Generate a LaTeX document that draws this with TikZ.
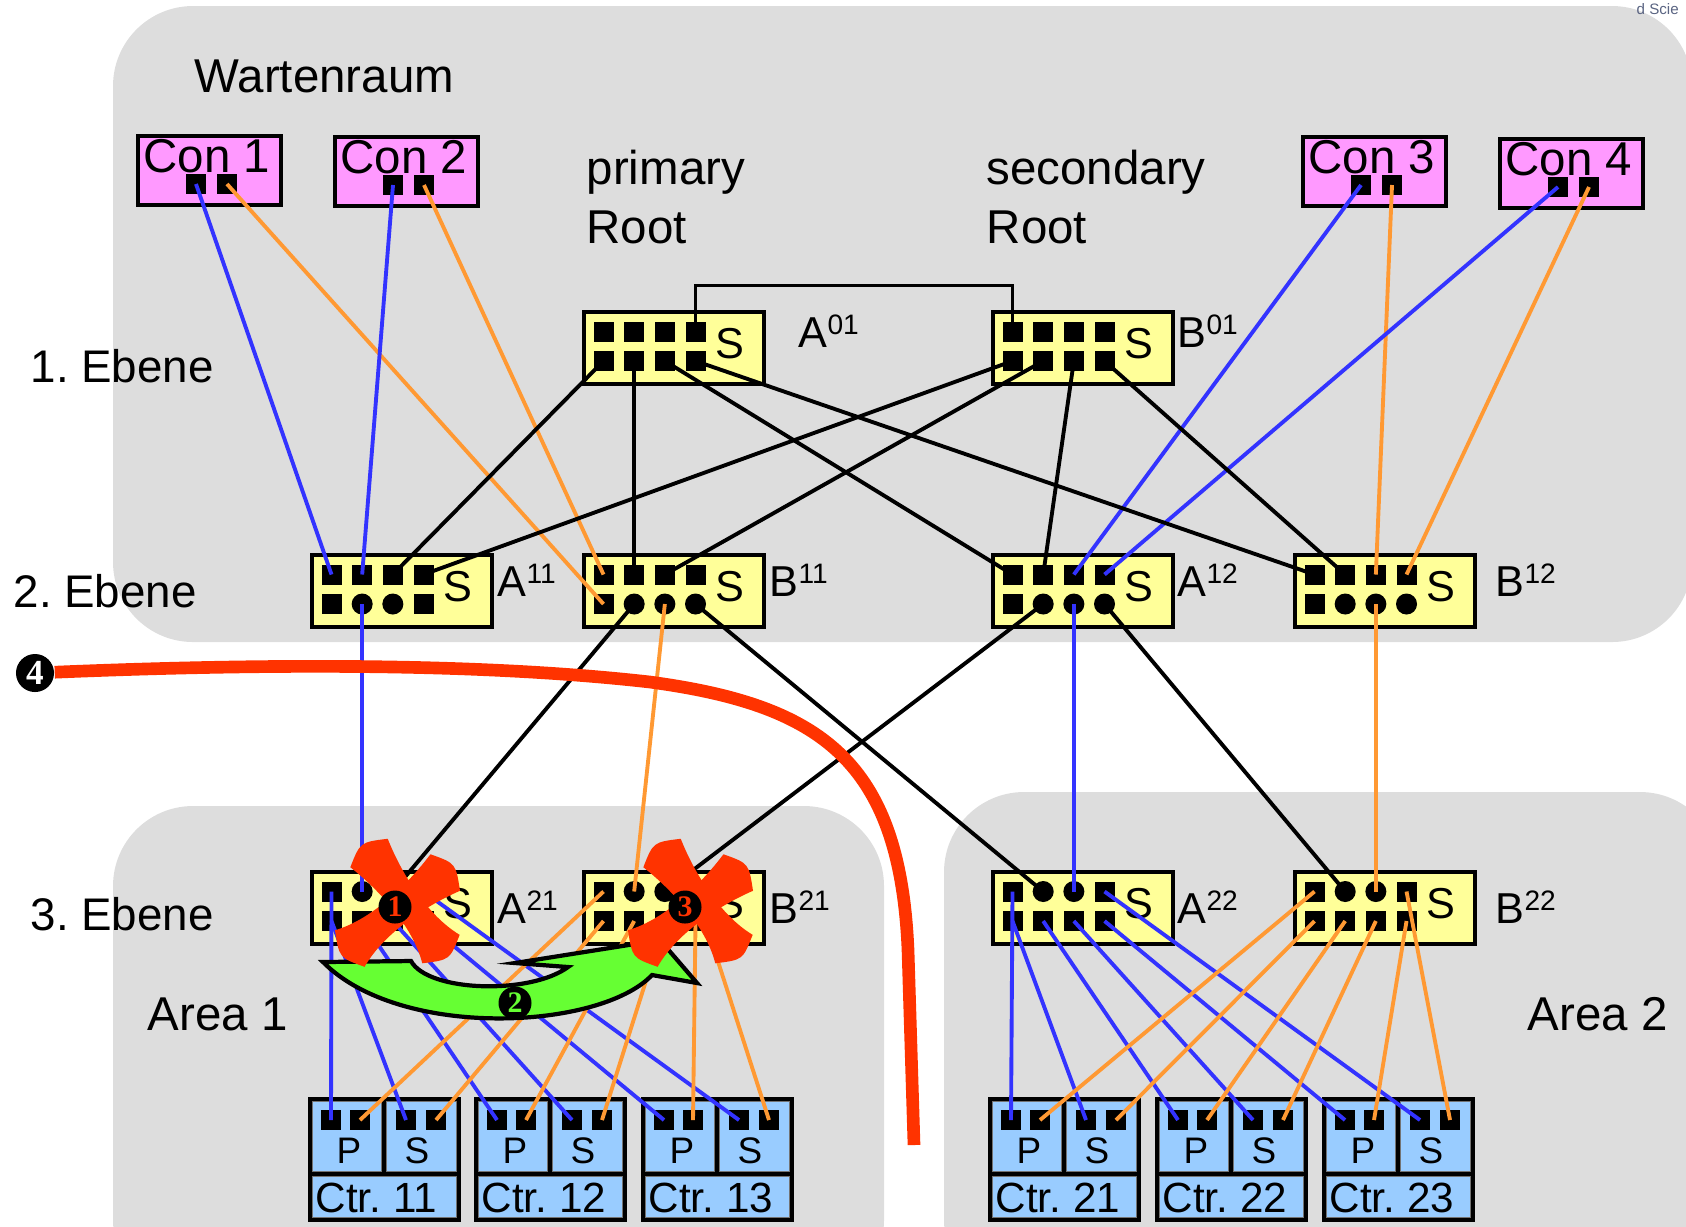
\documentclass[tikz,border=0pt]{standalone}
\usepackage{fontspec}
\setmainfont{Liberation Sans}
\newfontfamily\markfont{Liberation Serif}
\usepackage{xcolor}
\definecolor{zone}{RGB}{221,221,221}
\definecolor{conpink}{RGB}{255,153,255}
\definecolor{swyellow}{RGB}{255,255,153}
\definecolor{ctrblue}{RGB}{153,204,255}
\definecolor{netA}{RGB}{51,51,255}
\definecolor{netB}{RGB}{255,153,51}
\definecolor{failred}{RGB}{255,51,0}
\definecolor{arrowgreen}{RGB}{102,255,51}
\definecolor{markgray}{RGB}{90,100,130}
\frenchspacing

\begin{document}
\begin{tikzpicture}[x=0.01cm, y=-0.01cm, font=\fontsize{13.5}{16.8}\selectfont,
  zonebox/.style={fill=zone, rounded corners=0.8cm},
  con/.style={draw, line width=1.1pt, fill=conpink, minimum width=1.43cm,
              minimum height=0.69cm, anchor=north west, inner sep=0pt},
  sw/.style={draw, line width=1.1pt, fill=swyellow, minimum width=1.80cm,
             minimum height=0.72cm, anchor=north west, inner sep=0pt},
  sq/.style={fill=black, minimum size=0.2cm, inner sep=0pt},
  rnd/.style={circle, fill=black, minimum size=0.21cm, inner sep=0pt},
  ctrframe/.style={fill=black, minimum width=1.53cm, minimum height=1.25cm,
                   anchor=north west, inner sep=0pt},
  cell/.style={draw=black!55, line width=0.3pt, fill=ctrblue, anchor=north west, inner sep=0pt},
  txt/.style={inner sep=0pt, anchor=base west},
  swlabel/.style={txt, font=\fontsize{12.3}{14}\selectfont},
  wa/.style={netA, line width=1.1pt},
  wb/.style={netB, line width=1.1pt},
  wk/.style={black, line width=1.1pt},
  failmark/.style={circle, fill=black, inner sep=0pt, minimum size=0.33cm,
                   font=\markfont\bfseries\fontsize{8.5}{8.5}\selectfont},
  failline/.style={failred, line width=3.6pt}]
  \useasboundingbox (0,0) rectangle (1686,1226);
  % zones
  \fill[zonebox] (113,6) rectangle (1692,642);
  \fill[zonebox] (113,806) rectangle (884,1300);
  \fill[zonebox] (944,792) rectangle (1720,1300);
  \node[txt, font=\fontsize{4.3}{5}\selectfont, text=markgray] (wm) at (1636,14) {d Scie};

  \node[txt] (hall) at (194,92) {Wartenraum};
  \node[txt, align=left, anchor=north west] (proot) at (586,149) {primary\\Root};
  \node[txt, align=left, anchor=north west] (sroot) at (986,149) {secondary\\Root};
  \foreach \y/\x/\n in {382/30/1, 607/13/2, 930/30/3}
    \node[txt, font=\fontsize{13}{15}\selectfont] (lvl\n) at (\x,\y) {\n. Ebene};
  \node[txt] (area1) at (147,1030) {Area 1};
  \node[txt] (area2) at (1527,1030) {Area 2};

  % consoles
  \foreach \id/\x/\y/\name in {con1/134/132/Con 1, con2/331/133/Con 2,
                               con3/1299/133/Con 3, con4/1496/135/Con 4} {
    \node[con] (\id) at (\x+2,\y+2) {};
    \node[txt, anchor=base] at (\x+73,\y+40) {\name};
    \node[sq] (\id-p1) at (\x+62,\y+52) {};
    \node[sq] (\id-p2) at (\x+93,\y+52) {};
  }

  % switches
  \foreach \id/\x/\y/\ltr/\lvl/\lx/\ly/\tp/\bt in {
      a01/580/308/A/01/798/347/{sq,sq,sq,sq}/{sq,sq,sq,sq},
      b01/989/308/B/01/1177/347/{sq,sq,sq,sq}/{sq,sq,sq,sq},
      a11/308/551/A/11/497/596/{sq,sq,sq,sq}/{sq,rnd,rnd,sq},
      b11/580/551/B/11/769/596/{sq,sq,sq,sq}/{sq,rnd,rnd,rnd},
      a12/989/551/A/12/1177/596/{sq,sq,sq,sq}/{sq,rnd,rnd,rnd},
      b12/1291/551/B/12/1495/596/{sq,sq,sq,sq}/{sq,rnd,rnd,rnd},
      a21/308/868/A/21/497/923/{sq,rnd,rnd,sq}/{sq,sq,sq,sq},
      b21/580/868/B/21/769/923/{sq,rnd,rnd,sq}/{sq,sq,sq,sq},
      a22/989/868/A/22/1177/923/{sq,rnd,rnd,sq}/{sq,sq,sq,sq},
      b22/1291/868/B/22/1495/923/{sq,rnd,rnd,sq}/{sq,sq,sq,sq}} {
    \node[sw] (\id) at (\x+2,\y+2) {};
    \node[swlabel, anchor=base] at (\x+150,\y+50) {S};
    \node[swlabel] (\id-name) at (\lx,\ly) {\ltr\raisebox{3.6pt}{\fontsize{8}{9}\selectfont\lvl}};
    \foreach \s [count=\k] in \tp
      \node[\s] (\id-t\k) at (\x+23.5+30.67*\k-30.67,\y+23.5) {};
    \foreach \s [count=\k] in \bt
      \node[\s] (\id-b\k) at (\x+23.5+30.67*\k-30.67,\y+53) {};
  }

  % controllers
  \foreach \id/\x/\name in {c11/307/Ctr. 11, c12/473/Ctr. 12, c13/640/Ctr. 13,
                            c21/987/Ctr. 21, c22/1154/Ctr. 22, c23/1321/Ctr. 23} {
    \node[ctrframe] (\id) at (\x,1096) {};
    \node[cell, minimum width=0.69cm, minimum height=0.70cm] (\id-pc) at (\x+5,1101) {};
    \node[cell, minimum width=0.70cm, minimum height=0.70cm] (\id-sc) at (\x+79,1101) {};
    \node[cell, minimum width=1.44cm, minimum height=0.41cm] (\id-nc) at (\x+5,1176) {};
    \node[txt, anchor=base, font=\fontsize{10.5}{12}\selectfont] at (\x+42,1163) {P};
    \node[txt, anchor=base, font=\fontsize{10.5}{12}\selectfont] at (\x+110,1163) {S};
    \node[txt, font=\fontsize{12}{14}\selectfont] at (\x+8,1212) {\name};
    \foreach \p/\dx in {p1/24, p2/53, s1/99, s2/129}
      \node[sq] (\id-\p) at (\x+\dx,1120) {};
  }

  % consoles to level 2
  \draw[wa] (con1-p1.center) -- (a11-t1.center);
  \draw[wb] (con1-p2.center) -- (b11-b1.center);
  \draw[wa] (con2-p1.center) -- (a11-t2.center);
  \draw[wb] (con2-p2.center) -- (b11-t1.center);
  \draw[wa] (con3-p1.center) -- (a12-t3.center);
  \draw[wb] (con3-p2.center) -- (b12-t3.center);
  \draw[wa] (con4-p1.center) -- (a12-t4.center);
  \draw[wb] (con4-p2.center) -- (b12-t4.center);

  % roots
  \draw[wk] (a01-t4.center) -- ++(0,-46) -| (b01-t1.center);
  \foreach \a/\b in {a01-b1/a11-t3, a01-b2/b11-t2, a01-b3/a12-t1, a01-b4/b12-t1,
                     b01-b1/a11-t4, b01-b2/b11-t3, b01-b3/a12-t2, b01-b4/b12-t2}
    \draw[wk] (\a.center) -- (\b.center);

  % level 2 to level 3
  \draw[wa] (a11-b2.center) -- (a21-t2.center);
  \draw[wk] (b11-b2.center) -- (a21-t3.center);
  \draw[wb] (b11-b3.center) -- (b21-t2.center);
  \draw[wk] (b11-b4.center) -- (a22-t2.center);
  \draw[wk] (a12-b2.center) -- (b21-t3.center);
  \draw[wa] (a12-b3.center) -- (a22-t3.center);
  \draw[wk] (a12-b4.center) -- (b22-t2.center);
  \draw[wb] (b12-b3.center) -- (b22-t3.center);

  % level 3 to controllers
  \foreach \n/\w/\j in {a/wa/1, b/wb/2}
    \foreach \ar in {1,2} {
      \draw[\w] (\n2\ar-t1.center) -- (c\ar1-p\j.center);
      \draw[\w] (\n2\ar-b1.center) -- (c\ar1-s\j.center);
      \draw[\w] (\n2\ar-b2.center) -- (c\ar2-p\j.center);
      \draw[\w] (\n2\ar-b3.center) -- (c\ar2-s\j.center);
      \draw[\w] (\n2\ar-b4.center) -- (c\ar3-p\j.center);
      \draw[\w] (\n2\ar-t4.center) -- (c\ar3-s\j.center);
    }

  % failover arrow
  \filldraw[fill=arrowgreen, draw=black, line width=1.2pt]
    (323,962) -- (411,961) .. controls (428,992) and (530,995) .. (568,967)
    -- (515,963) -- (660,940) -- (697,983) -- (652,975)
    .. controls (600,1030) and (400,1040) .. (323,962) -- cycle;

  % failures
  \foreach \cx in {395, 688} {
    \begin{scope}[shift={(\cx,907)}]
      \fill[failred, shift={(10,-6)}, rotate=-52.7]
        (-60,-24) .. controls (-25,-14) and (25,-9) .. (60,-23)
        .. controls (74,0) .. (60,24) .. controls (25,9) and (-25,14) .. (-60,23)
        .. controls (-74,0) .. (-60,-24) -- cycle;
      \fill[failred, shift={(2.5,3.5)}, rotate=39]
        (-61,-24) .. controls (-25,-9) and (25,-14) .. (61,-23)
        .. controls (75,0) .. (61,24) .. controls (25,14) and (-25,9) .. (-61,23)
        .. controls (-75,0) .. (-61,-24) -- cycle;
    \end{scope}
  }
  \node[failmark] (m1) at (395,907) {\textcolor{failred}{1}};
  \node[failmark] (m3) at (685,907) {\textcolor{failred}{3}};
  \node[failmark] (m2) at (515,1003) {\textcolor{arrowgreen}{2}};

  % cut through the plant
  \node[failmark, minimum size=0.38cm, font=\markfont\bfseries\fontsize{10}{10}\selectfont]
    (m4) at (35,673) {\textcolor{white}{4}};
  \coordinate (cutend) at (914,1145);
  \draw[failline] (m4) .. controls (300,662) and (500,665) .. (650,682)
    .. controls (820,705) and (900,760) .. (908,950) -- (cutend);
\end{tikzpicture}
\end{document}
